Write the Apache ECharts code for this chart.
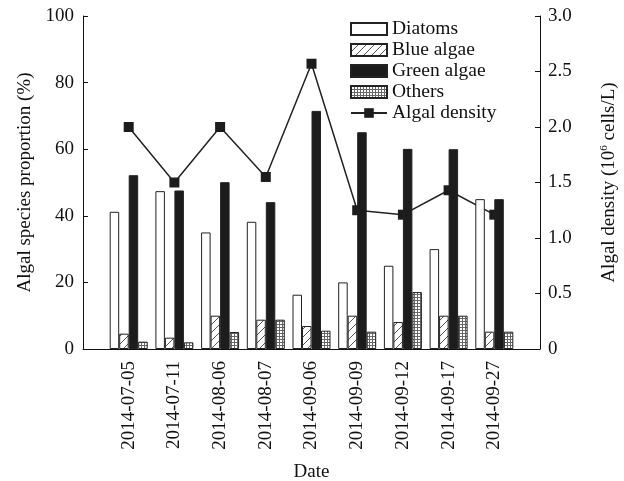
<!DOCTYPE html>
<html><head><meta charset="utf-8">
<script src="https://cdn.jsdelivr.net/npm/echarts@6/dist/echarts.min.js"></script>
<style>html,body{margin:0;padding:0;background:#fff}#c{width:624px;height:481px}</style>
</head><body><div id="c"></div>
<script>
const dates = ['2014-07-05','2014-07-11','2014-08-06','2014-08-07','2014-09-06','2014-09-09','2014-09-12','2014-09-17','2014-09-27'];
const diatoms = [41.2, 47.4, 35.0, 38.2, 16.3, 20.0, 25.0, 30.0, 45.0];
const blueAlgae = [4.6, 3.4, 10.0, 8.8, 6.9, 10.0, 8.1, 10.0, 5.2];
const greenAlgae = [52.2, 47.6, 50.1, 44.1, 71.5, 65.1, 60.1, 60.0, 45.0];
const others = [2.2, 2.0, 5.1, 8.8, 5.5, 5.2, 17.1, 10.0, 5.2];
const density = [2.0, 1.5, 2.0, 1.55, 2.57, 1.25, 1.21, 1.43, 1.21];

const FONT = 'Liberation Serif, "Times New Roman", serif';
const TXT = '#111';

function hatchCanvas() {
  const c = document.createElement('canvas'); c.width = 8; c.height = 8;
  const g = c.getContext('2d');
  g.fillStyle = '#fff'; g.fillRect(0, 0, 8, 8);
  g.strokeStyle = '#555'; g.lineWidth = 1;
  g.beginPath();
  g.moveTo(0, 8); g.lineTo(8, 0);
  g.moveTo(-1, 1); g.lineTo(1, -1);
  g.moveTo(7, 9); g.lineTo(9, 7);
  g.stroke();
  return c;
}
function gridCanvas() {
  const c = document.createElement('canvas'); c.width = 3; c.height = 3;
  const g = c.getContext('2d');
  g.fillStyle = '#fff'; g.fillRect(0, 0, 3, 3);
  g.fillStyle = '#666';
  g.fillRect(0, 0, 3, 1); g.fillRect(0, 0, 1, 3);
  return c;
}
const pad = a => [null, ...a, null];

const chart = echarts.init(document.getElementById('c'), null, {renderer: 'canvas'});
const barBase = {type: 'bar', barWidth: 9.5, barGap: '0%', z: 3};
const border = {borderColor: '#222', borderWidth: 1};
chart.setOption({
  animation: false,
  backgroundColor: '#fff',
  textStyle: {fontFamily: FONT, color: TXT},
  grid: {left: 83, right: 84, top: 16, bottom: 132, containLabel: false, outerBoundsMode: 'none'},
  legend: {
    orient: 'vertical', left: 345, top: 14, itemWidth: 36, itemHeight: 12, itemGap: 1,
    textStyle: {fontFamily: FONT, fontSize: 19.5, color: TXT, lineHeight: 19.5},
    data: [
      {name: 'Diatoms', icon: 'rect'},
      {name: 'Blue algae', icon: 'rect'},
      {name: 'Green algae', icon: 'rect'},
      {name: 'Others', icon: 'rect'},
      {name: 'Algal density'}
    ]
  },
  xAxis: {
    type: 'category', data: ['', ...dates, ''], boundaryGap: false,
    name: 'Date', nameLocation: 'middle', nameGap: 114,
    nameTextStyle: {fontFamily: FONT, fontSize: 19, color: TXT},
    axisLine: {lineStyle: {color: '#111', width: 1}},
    axisTick: {show: false},
    axisLabel: {rotate: 90, interval: 0, margin: 12, fontFamily: FONT, fontSize: 19, color: TXT},
    splitLine: {show: false}
  },
  yAxis: [{
    type: 'value', min: 0, max: 100, interval: 20, position: 'left',
    name: 'Algal species proportion (%)', nameLocation: 'middle', nameGap: 45, nameRotate: 90,
    nameTextStyle: {fontFamily: FONT, fontSize: 19, color: TXT},
    axisLine: {show: true, lineStyle: {color: '#111', width: 1}},
    axisTick: {show: true, inside: true, length: 5, lineStyle: {color: '#111'}},
    axisLabel: {margin: 9, fontFamily: FONT, fontSize: 19, color: TXT},
    splitLine: {show: false}
  }, {
    type: 'value', min: 0, max: 3, interval: 0.5, position: 'right',
    name: 'Algal density (10{sup|6} cells/L)', nameLocation: 'middle', nameGap: 59, nameRotate: 90,
    nameTextStyle: {fontFamily: FONT, fontSize: 19, color: TXT, lineHeight: 20,
      rich: {sup: {fontFamily: FONT, fontSize: 11, color: TXT, verticalAlign: 'top', lineHeight: 20}}},
    axisLine: {show: true, lineStyle: {color: '#111', width: 1}},
    axisTick: {show: true, inside: true, length: 5, lineStyle: {color: '#111'}},
    axisLabel: {margin: 8, fontFamily: FONT, fontSize: 19, color: TXT,
      formatter: v => v === 0 ? '0' : v.toFixed(1)},
    splitLine: {show: false}
  }],
  series: [
    Object.assign({}, barBase, {name: 'Diatoms', data: pad(diatoms), itemStyle: Object.assign({color: '#fff'}, border)}),
    Object.assign({}, barBase, {name: 'Blue algae', data: pad(blueAlgae), itemStyle: Object.assign({color: {image: hatchCanvas(), repeat: 'repeat'}}, border)}),
    Object.assign({}, barBase, {name: 'Green algae', data: pad(greenAlgae), itemStyle: Object.assign({color: '#1c1c1c'}, border)}),
    Object.assign({}, barBase, {name: 'Others', data: pad(others), itemStyle: Object.assign({color: {image: gridCanvas(), repeat: 'repeat'}}, border)}),
    {type: 'line', name: 'Algal density', yAxisIndex: 1, data: pad(density), z: 2,
      symbol: 'rect', symbolSize: 10, showSymbol: true,
      lineStyle: {color: '#222', width: 1.5}, itemStyle: {color: '#1c1c1c'}}
  ]
});
</script>
</body></html>
